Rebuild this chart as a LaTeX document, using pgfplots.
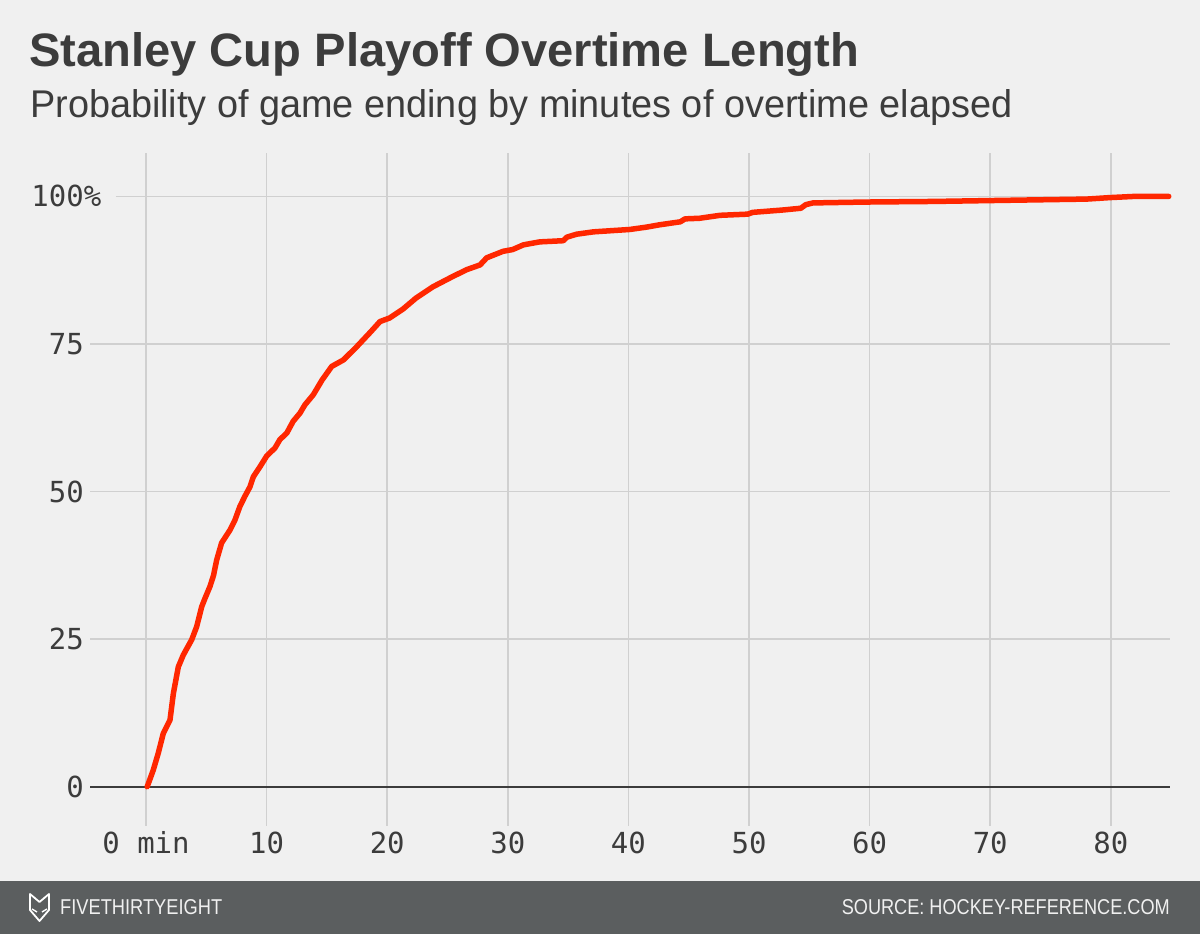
\documentclass[border=0pt]{standalone}
\usepackage{fontspec}
\usepackage{graphicx}
\usepackage{pgfplots}
\pgfplotsset{compat=1.18}
\setmainfont{Liberation Sans}
\newfontfamily\mono{DejaVu Sans Mono}
\definecolor{bg}{HTML}{F0F0F0}
\definecolor{foot}{HTML}{5B5E5F}
\definecolor{txt}{HTML}{3C3C3C}
\definecolor{gridc}{HTML}{D0D0D0}
\definecolor{fte}{HTML}{FF2700}
\begin{document}
\begin{tikzpicture}[x=1pt,y=1pt]
\useasboundingbox (0,0) rectangle (1200,934);
\fill[bg] (0,0) rectangle (1200,934);
\fill[foot] (0,0) rectangle (1200,53);
% title and subtitle
\node[anchor=base west, inner sep=0, text=txt] at (29,867) {\resizebox{830pt}{34pt}{\bfseries Stanley Cup Playoff Overtime Length}};
\node[anchor=base west, inner sep=0, text=txt] at (30,816) {\resizebox{982pt}{28pt}{Probability of game ending by minutes of overtime elapsed}};
% footer
\draw[white, line width=1.8pt, line join=round] (30,40) -- (39.5,32) -- (49,40) -- (49,24) -- (39.5,13) -- (30,24) -- cycle;
\draw[white, line width=1.4pt] (32,25) -- (37,22) (47,25) -- (42,22);
\node[anchor=base west, inner sep=0, text=bg] at (60,19) {\resizebox{162pt}{15pt}{FIVETHIRTYEIGHT}};
\node[anchor=base east, inner sep=0, text=bg] at (1170,19) {\resizebox{328pt}{15pt}{SOURCE: HOCKEY-REFERENCE.COM}};
\begin{axis}[
  at={(90pt,108pt)}, anchor=south west, scale only axis,
  width=1080pt, height=673pt,
  xmin=-4.643, xmax=84.91, ymin=-6.66, ymax=107.36,
  axis line style={draw=none},
  major tick length=0pt, tick style={draw=none},
  xtick={0,10,20,30,40,50,60,70,80},
  xticklabels={0 min,10,20,30,40,50,60,70,80},
  ytick={0,25,50,75,100},
  yticklabels={0,25,50,75,100\rlap{\%}},
  xmajorgrids, ymajorgrids=false,
  grid style={gridc, line width=1.5pt},
  xticklabel style={font=\mono\fontsize{29}{34}\selectfont, text=txt, anchor=base, inner sep=0pt, yshift=-28pt},
  yticklabel style={font=\mono\fontsize{29}{34}\selectfont, text=txt, anchor=base east, inner sep=0pt, xshift=-6pt, yshift=-10.5pt},
  clip=false,
]
\draw[gridc, line width=1.5pt] (axis cs:-4.643,25) -- (axis cs:84.91,25);
\draw[gridc, line width=1.5pt] (axis cs:-4.643,50) -- (axis cs:84.91,50);
\draw[gridc, line width=1.5pt] (axis cs:-4.643,75) -- (axis cs:84.91,75);
\draw[gridc, line width=1.5pt] (axis cs:-2.49,100) -- (axis cs:84.91,100);
\draw[txt, line width=2pt] (axis cs:-4.643,0) -- (axis cs:84.91,0);
\addplot[fte, line width=5.5pt, line cap=round, line join=round] coordinates {
(0.1,0) (0.6,2.8) (1.02,5.7) (1.43,9.0) (1.99,11.3) (2.27,15.8) (2.68,20.3) (3.09,22.3) (3.79,24.9) (4.2,27.1) (4.62,30.5) (4.89,31.9) (5.3,33.9) (5.6,35.8) (5.86,38.4) (6.27,41.3) (6.97,43.5) (7.38,45.2) (7.79,47.5) (8.2,49.2) (8.62,50.8) (8.9,52.5) (9.45,54.2) (10.0,56.0) (10.7,57.4) (11.1,58.8) (11.67,59.9) (12.2,61.9) (12.77,63.3) (13.18,64.7) (13.87,66.4) (14.6,68.9) (15.4,71.2) (16.37,72.3) (17.5,74.6) (18.65,77.1) (19.4,78.8) (20.2,79.4) (21.3,80.9) (22.4,82.8) (23.8,84.7) (25.4,86.4) (26.6,87.6) (27.7,88.4) (28.25,89.6) (29.6,90.7) (30.4,91.0) (31.3,91.8) (32.65,92.3) (34.6,92.5) (34.9,93.1) (35.7,93.6) (37.1,94.0) (40.1,94.4) (41.5,94.8) (42.6,95.2) (44.3,95.7) (44.7,96.2) (45.9,96.3) (47.6,96.8) (49.9,97.0) (50.3,97.3) (52.8,97.7) (54.3,98.0) (54.7,98.6) (55.3,98.9) (59.7,99.05) (65.3,99.15) (70.0,99.3) (78.0,99.55) (79.9,99.8) (81.9,100) (84.8,100)
};
\end{axis}
\end{tikzpicture}
\end{document}
